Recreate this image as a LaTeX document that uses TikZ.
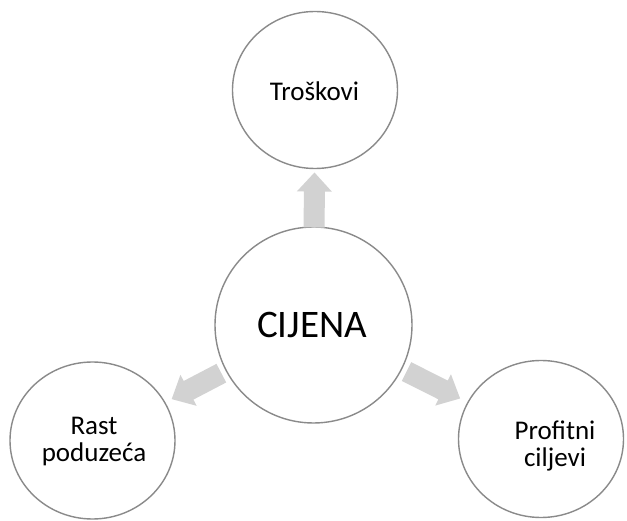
\documentclass[tikz,border=0pt]{standalone}
\usepackage{fontspec}
\setmainfont{Carlito}
\usetikzlibrary{calc,shapes.geometric}
\definecolor{circline}{RGB}{138,138,138}
\definecolor{arrowgray}{RGB}{210,210,210}
\tikzset{
  ring/.style={ellipse, draw=circline, line width=1.4pt, fill=white, inner sep=0pt},
  bigring/.style={ring, minimum width=197pt, minimum height=196pt},
  smallring/.style={ring, minimum width=165pt, minimum height=157pt},
  smalltext/.style={align=center, font=\fontsize{27}{27}\selectfont, inner sep=0pt},
  bigtext/.style={font=\fontsize{39}{39}\selectfont, inner sep=0pt},
  arrowfill/.style={fill=arrowgray}
}
\newcommand\blockarrow[4]{%
  \pgfmathsetmacro\baS{#3}%
  \pgfmathsetmacro\baE{#3+#4}%
  \pgfmathsetmacro\baB{#3+#4-19}%
  \coordinate (ba-s) at ($(#1)!\baS pt!(#2)$);
  \coordinate (ba-e) at ($(#1)!\baE pt!(#2)$);
  \coordinate (ba-b) at ($(#1)!\baB pt!(#2)$);
  \fill[arrowfill] ($(ba-s)!10.5pt!90:(ba-e)$) -- ($(ba-b)!10.5pt!90:(ba-e)$)
     -- ($(ba-b)!17.5pt!90:(ba-e)$) -- (ba-e) -- ($(ba-b)!17.5pt!-90:(ba-e)$)
     -- ($(ba-b)!10.5pt!-90:(ba-e)$) -- ($(ba-s)!10.5pt!-90:(ba-e)$) -- cycle;
}
\begin{document}
\begin{tikzpicture}[x=1pt,y=-1pt]
\useasboundingbox[fill=white] (0,0) rectangle (627,521);
% circles
\node[smallring] (troskovi) at (315,90) {};
\node[smallring] (rast) at (92.5,440.5) {};
\node[smallring] (profit) at (541,439) {};
\node[bigring] (cijena) at (313.5,325) {};
% labels
\node[smalltext] (troskovilbl) at (314.5,91) {Troškovi};
\node[smalltext] (rastlbl) at (94,442) {Rast\\poduzeća};
\node[smalltext] (profitlbl) at (555,446) {Profitni\\ciljevi};
\node[bigtext] (cijenalbl) at (312,325) {CIJENA};
% arrows
\blockarrow{cijena}{troskovi}{97.5}{55}
\blockarrow{cijena}{rast}{104}{56}
\blockarrow{cijena}{profit}{104}{60}
\end{tikzpicture}
\end{document}
